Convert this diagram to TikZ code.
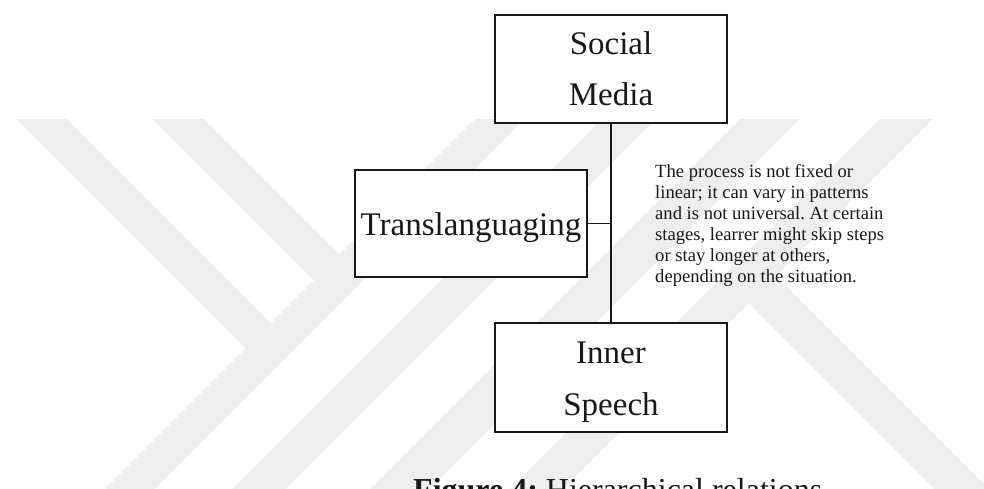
\documentclass[tikz,border=0pt]{standalone}
\usepackage{fontspec}
\setmainfont{Liberation Serif}
\frenchspacing
\definecolor{wmark}{RGB}{238,238,238}
\definecolor{ink}{RGB}{24,24,24}
\tikzset{
  box/.style={draw=ink, line width=1.8pt, fill=white, inner sep=0pt, minimum width=232pt},
  boxlabel/.style={font=\fontsize{33}{40}\selectfont, text=ink, inner sep=0pt, anchor=base},
  link/.style={draw=ink, line width=1.8pt},
  band/.style={fill=wmark, draw=none},
}
\begin{document}
\begin{tikzpicture}[x=1pt,y=-1pt]
\useasboundingbox (0,0) rectangle (984,489);
\clip (0,0) rectangle (984,489);

% faint background logo made of diagonal bands
\begin{scope}
  \clip (0,120) rectangle (984,489);
  \fill[band] (-3,100) -- (47,100) -- (283.5,336.5) -- (258.5,361.5) -- cycle;
  \fill[band] (133,100) -- (185,100) -- (352.5,267.5) -- (326.5,293.5) -- cycle;
  \fill[band] (494,100) -- (543,100) -- (123,520) -- (74,520) -- cycle;
  \fill[band] (621,100) -- (675,100) -- (255,520) -- (201,520) -- cycle;
  \fill[band] (759,100) -- (819,100) -- (399,520) -- (339,520) -- cycle;
  \fill[band] (899,100) -- (952,100) -- (532,520) -- (479,520) -- cycle;
  \fill[band] (762.5,262.5) -- (1060,560) -- (1005,560) -- (735,290) -- cycle;
\end{scope}

% boxes
\node[box, minimum height=108pt] (social) at (611,69) {};
\node[box, minimum height=107pt] (trans) at (471,223.5) {};
\node[box, minimum height=109pt] (inner) at (611,377.5) {};

% box labels
\node[boxlabel] (socialA) at (611,55) {Social};
\node[boxlabel] (socialB) at (611,106) {Media};
\node[boxlabel] (transA) at (471,235) {Translanguaging};
\node[boxlabel] (innerA) at (611,363) {Inner};
\node[boxlabel] (innerB) at (611,415) {Speech};

% connectors
\draw[link] (social.south) -- (inner.north);
\coordinate (junction) at (social.south |- trans.east);
\draw[link] (trans.east) -- (junction);

% side note
\node[font=\fontsize{18.6}{21}\selectfont, text=ink, align=left, inner sep=0pt, anchor=north west] (note) at (655,164)
  {The process is not fixed or\\
   linear; it can vary in patterns\\
   and is not universal. At certain\\
   stages, learrer might skip steps\\
   or stay longer at others,\\
   depending on the situation.};

% caption
\node[font=\fontsize{32}{38}\selectfont, text=ink, inner sep=0pt, anchor=base west] (caption) at (413,500)
  {\textbf{Figure 4:} Hierarchical relations};
\end{tikzpicture}
\end{document}
